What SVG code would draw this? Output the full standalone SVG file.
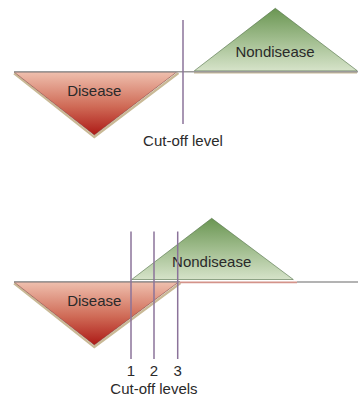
<svg xmlns="http://www.w3.org/2000/svg" width="359" height="399" viewBox="0 0 359 399">
<defs>
<linearGradient id="gD" x1="0" y1="0" x2="0" y2="1">
<stop offset="0" stop-color="#efc0ae"/>
<stop offset="0.55" stop-color="#cf6a56"/>
<stop offset="1" stop-color="#ad1a16"/>
</linearGradient>
<linearGradient id="gN" x1="0" y1="0" x2="0" y2="1">
<stop offset="0" stop-color="#6a9652"/>
<stop offset="1" stop-color="#d6e3c9"/>
</linearGradient>
<style>
.t{font-family:"Liberation Sans",Arial,sans-serif;fill:#2a2a2a;text-anchor:middle;font-size:15px}
.dis{fill:url(#gD);stroke:#7a3a30;stroke-width:0.6}
.non{fill:url(#gN);stroke:#4f6e45;stroke-width:0.6}
.shadow{fill:none;stroke:#c9b996;stroke-width:2.2}
.axis{stroke:#9a9a9a;stroke-width:1.6}
.cut{stroke:#8b739a;stroke-width:1.5}
</style>
</defs>
<g id="top-panel">
<g id="disease-top">
<polyline class="shadow" points="14,73.5 94.3,137 178.5,73"/>
<polygon class="dis" points="14,72 176.7,72 94.3,135"/>
<text class="t" x="94.3" y="96">Disease</text>
</g>
<g id="nondisease-top">
<line x1="194" y1="72.6" x2="357" y2="72.6" stroke="#c9b996" stroke-width="1.6"/>
<polygon class="non" points="194.3,70.8 275.3,8.3 357.3,70.8"/>
<text class="t" x="275" y="56.5">Nondisease</text>
</g>
<g id="connectors-top">
<line class="axis" x1="14" y1="71.8" x2="358" y2="71.8"/>
<line class="cut" x1="183" y1="20" x2="183" y2="124"/>
</g>
<text class="t" x="183" y="145.5">Cut-off level</text>
</g>
<g id="bottom-panel">
<g id="disease-bottom">
<polyline class="shadow" points="14,283.5 94.3,347 180.5,283"/>
<polygon class="dis" points="14,282 178.7,282 94.3,345"/>
<text class="t" x="94.3" y="306">Disease</text>
</g>
<g id="nondisease-bottom">
<polygon class="non" points="131.7,279.5 211.7,218.3 293.3,279.5"/>
<text class="t" x="211.7" y="266.5">Nondisease</text>
</g>
<g id="connectors-bottom">
<line class="axis" x1="14" y1="281.8" x2="180" y2="281.8"/>
<line x1="180" y1="282.3" x2="297" y2="282.3" stroke="#d4938a" stroke-width="1.8"/>
<line class="axis" x1="297" y1="282" x2="358" y2="282"/>
<line class="cut" x1="131" y1="231.5" x2="131" y2="359"/>
<line class="cut" x1="154" y1="231.5" x2="154" y2="359"/>
<line class="cut" x1="177.7" y1="231.5" x2="177.7" y2="359"/>
</g>
<text class="t" x="131" y="376">1</text>
<text class="t" x="154" y="376">2</text>
<text class="t" x="177.7" y="376">3</text>
<text class="t" x="154" y="393.5">Cut-off levels</text>
</g>
</svg>
